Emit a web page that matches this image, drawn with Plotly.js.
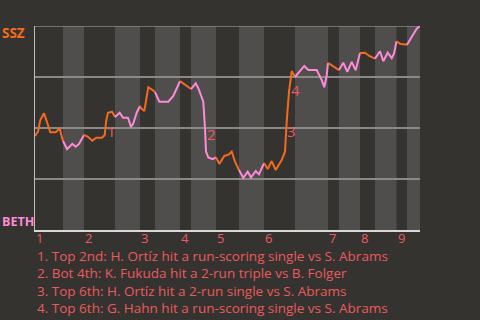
<!DOCTYPE html>
<html>
<head>
<meta charset="utf-8">
<script src="https://cdn.plot.ly/plotly-3.0.1.min.js"></script>
<style>html,body{margin:0;padding:0;background:#353330;}#chart{width:480px;height:320px;}</style>
</head>
<body>
<div id="chart"></div>
<script>
// Game progress (pitch-ish index) and SSZ win probability
const progress = [0,3,5.3,9,11.3,15.3,20.7,24.7,26.3,28,
  32,35.3,37.3,40.7,44,49,
  53,57.3,61.3,67,69.7,71.3,73,77,80,
  84.7,88,93,96,98.3,101.7,105,
  106,109.3,111.7,113.3,118.3,120,
  124.3,133.3,138.3,145,
  150,156,
  160.7,163.3,166.7,168.3,170,171,173.3,177.7,181,
  184.3,189.3,194,196.7,200,204,
  208.3,212.7,216,220.7,224,229,
  232.7,236.7,240.7,246.7,250,251.7,254,256,256.7,259.3,260,
  269.3,273.3,281.7,286.7,289.3,291.7,293,
  296.7,300,304,
  308.3,312.3,316.7,320.7,325,
  330,334.3,340,
  345,348.3,352.7,356.7,359,361.5,
  365,372,
  378.3,381.7,385];
const winProb = [0.461,0.482,0.539,0.572,0.539,0.479,0.479,0.499,0.466,0.436,
  0.397,0.412,0.422,0.408,0.422,0.466,
  0.457,0.438,0.452,0.452,0.466,0.539,0.575,0.580,0.554,
  0.575,0.550,0.550,0.505,0.523,0.575,0.608,
  0.597,0.583,0.653,0.700,0.683,0.676,
  0.629,0.629,0.657,0.730,
  0.711,0.691,
  0.719,0.695,0.653,0.629,0.499,0.384,0.356,0.347,0.356,
  0.324,0.363,0.371,0.384,0.335,0.294,
  0.256,0.286,0.258,0.289,0.273,0.328,
  0.299,0.338,0.294,0.343,0.384,0.531,0.678,0.751,0.779,0.756,0.750,
  0.804,0.784,0.784,0.735,0.700,0.758,0.819,
  0.807,0.799,0.784,
  0.820,0.775,0.824,0.783,0.868,
  0.869,0.853,0.840,
  0.876,0.827,0.869,0.843,0.864,0.925,
  0.913,0.908,
  0.962,0.987,1.0];
// Half-inning boundaries (top 1, bot 1, top 2, ...)
const halfBounds = [0,28,49,80,105,120,145,156,181,204,229,260,293,304,325,340,361.5,372,385];
const inningLabels = ['1','2','3','4','5','6','7','8','9'];
const teams = ['SSZ','BETH'];
const eventLabels = ['1','2','3','4'];
const eventX = [76,176,256,260];
const eventY = [0.485,0.47,0.485,0.686];
const eventTexts = [
  '1. Top 2nd: H. Ortíz hit a run-scoring single vs S. Abrams',
  '2. Bot 4th: K. Fukuda hit a 2-run triple vs B. Folger',
  '3. Top 6th: H. Ortíz hit a 2-run single vs S. Abrams',
  '4. Top 6th: G. Hahn hit a run-scoring single vs S. Abrams'
];

const ORANGE = '#f26b1f', PINK = '#ff8ad8', RED = '#eb5a5e';
const FONT = 'Open Sans, Noto Sans, sans-serif';

const traces = [];
for (let h = 0; h < halfBounds.length - 1; h++) {
  const x0 = halfBounds[h], x1 = halfBounds[h+1];
  const xs = [], ys = [];
  for (let i = 0; i < progress.length; i++) {
    if (progress[i] >= x0 && progress[i] <= x1) { xs.push(progress[i]); ys.push(winProb[i]); }
  }
  traces.push({x: xs, y: ys, type: 'scatter', mode: 'lines',
    line: {color: h % 2 === 0 ? ORANGE : PINK, width: 2}, hoverinfo: 'skip', showlegend: false});
}

const shapes = [];
for (let h = 1; h < halfBounds.length - 1; h += 2) {
  shapes.push({type: 'rect', xref: 'x', yref: 'paper', x0: halfBounds[h], x1: halfBounds[h+1], y0: 0, y1: 1,
    fillcolor: '#4f4e4c', line: {width: 0}, layer: 'below'});
}
// top gridline (100%)
shapes.push({type: 'line', xref: 'paper', yref: 'y', x0: 0, x1: 1, y0: 1, y1: 1,
  line: {color: '#8a8986', width: 1.5}, layer: 'below'});

const annotations = [];
inningLabels.forEach((t, i) => {
  annotations.push({x: halfBounds[2*i], y: 0, xref: 'x', yref: 'paper', yshift: -8, text: t, showarrow: false,
    xanchor: 'left', yanchor: 'middle', borderpad: 0, font: {family: FONT, size: 13, color: RED}});
});
eventLabels.forEach((t, i) => {
  annotations.push({x: eventX[i], y: eventY[i], xref: 'x', yref: 'y', text: t, showarrow: false,
    xanchor: 'center', yanchor: 'middle', borderpad: 0, font: {family: FONT, size: 15, color: RED}});
});
annotations.push({x: 0, y: 1, xref: 'paper', yref: 'paper', xshift: -34, yshift: -7, text: '<b>' + teams[0] + '</b>',
  showarrow: false, xanchor: 'left', yanchor: 'middle', borderpad: 0, font: {family: FONT, size: 13.5, color: ORANGE}});
annotations.push({x: 0, y: 0, xref: 'paper', yref: 'paper', xshift: -34, yshift: 9, text: '<b>' + teams[1] + '</b>',
  showarrow: false, xanchor: 'left', yanchor: 'middle', borderpad: 0, font: {family: FONT, size: 12.5, color: PINK}});
eventTexts.forEach((t, i) => {
  annotations.push({x: 0, y: 0, xref: 'paper', yref: 'paper', xshift: 1, yshift: -26 - 17.33*i, text: t, showarrow: false,
    xanchor: 'left', yanchor: 'middle', borderpad: 0, font: {family: FONT, size: 13.5, color: RED}});
});

const layout = {
  width: 480, height: 320,
  margin: {l: 35, r: 60, t: 26, b: 90},
  paper_bgcolor: '#353330', plot_bgcolor: '#353330',
  xaxis: {range: [0, 385], showgrid: false, zeroline: false, showticklabels: false, ticks: '',
    showline: true, linecolor: '#d8d8d8', linewidth: 2, fixedrange: true},
  yaxis: {range: [0, 1], tickvals: [0.25, 0.5, 0.75, 1], showticklabels: false, ticks: '',
    gridcolor: '#8a8986', gridwidth: 1.5, zeroline: false, showline: true, linecolor: '#bdbdbd', linewidth: 1.5, fixedrange: true},
  shapes: shapes,
  annotations: annotations,
  showlegend: false
};
Plotly.newPlot('chart', traces, layout, {staticPlot: true, displayModeBar: false});
</script>
</body>
</html>
